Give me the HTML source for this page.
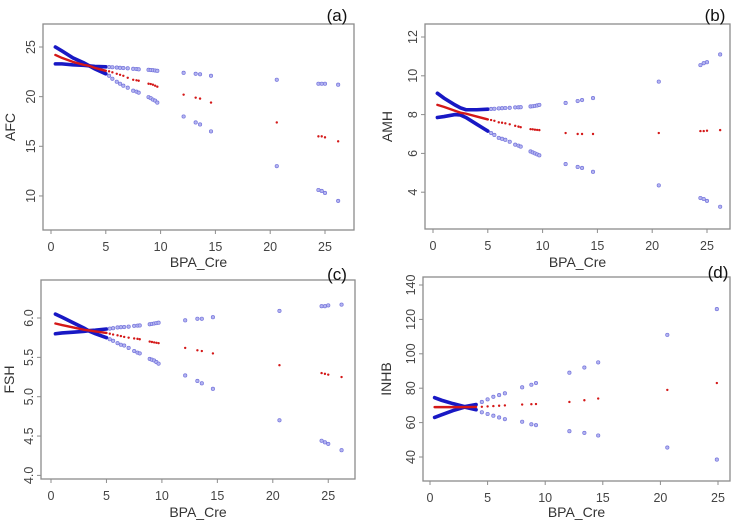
<!DOCTYPE html>
<html><head><meta charset="utf-8"><style>
body{margin:0;background:#fff;}
svg{display:block;font-family:"Liberation Sans",sans-serif;}
</style></head><body>
<svg id="fig" width="735" height="524" viewBox="0 0 735 524" xmlns="http://www.w3.org/2000/svg"></svg>
<script>
const xTicks=[0,5,10,15,20,25];
// Panel (a) AFC
const aX=[0.4,1,2,3,3.5,4,5,5.3,5.6,6,6.3,6.6,7,7.5,7.8,8,8.9,9.1,9.3,9.5,9.7,12.1,13.2,13.6,14.6,20.6,24.4,24.7,25,26.2];
const aDesc=[25,24.6,23.9,23.4,23.1,22.8,22.3,22.1,21.8,21.5,21.3,21.1,20.9,20.6,20.5,20.4,19.95,19.85,19.7,19.6,19.4,18.0,17.4,17.2,16.5,13.0,10.6,10.5,10.3,9.5];
const aFlat=[23.3,23.3,23.2,23.15,23.1,23.05,23.0,22.98,22.96,22.93,22.9,22.88,22.85,22.8,22.78,22.75,22.7,22.68,22.66,22.63,22.6,22.4,22.3,22.25,22.1,21.7,21.3,21.3,21.3,21.2];
const aMid=[24.2,23.9,23.5,23.2,23.1,22.9,22.6,22.55,22.45,22.3,22.2,22.1,21.9,21.7,21.65,21.6,21.3,21.27,21.2,21.1,21.0,20.2,19.9,19.8,19.4,17.4,16.0,16.0,15.9,15.5];
const aYTicks=[10,15,20,25];
// Panel (b) AMH
const bX=[0.4,1,2,2.5,3,4,5,5.3,5.6,6,6.3,6.6,7,7.5,7.8,8,8.9,9.1,9.3,9.5,9.7,12.1,13.2,13.6,14.6,20.6,24.4,24.7,25,26.2];
const bUp=[9.1,8.85,8.5,8.35,8.25,8.25,8.28,8.29,8.3,8.32,8.33,8.34,8.35,8.37,8.375,8.38,8.42,8.43,8.45,8.47,8.5,8.6,8.7,8.75,8.85,9.7,10.55,10.65,10.7,11.1];
const bLo=[7.85,7.9,8.0,7.98,7.85,7.5,7.15,7.05,6.95,6.8,6.75,6.7,6.6,6.45,6.4,6.35,6.1,6.05,6.0,5.95,5.9,5.45,5.3,5.25,5.05,4.35,3.7,3.65,3.55,3.25];
const bMid=[8.5,8.4,8.2,8.1,8.05,7.9,7.75,7.72,7.68,7.6,7.58,7.55,7.5,7.42,7.38,7.35,7.25,7.24,7.22,7.21,7.2,7.05,7.0,7.0,7.0,7.05,7.15,7.15,7.17,7.2];
const bYTicks=[4,6,8,10,12];
// Panel (c) FSH
const cX=[0.4,1,2,3,3.5,4,5,5.3,5.6,6,6.3,6.6,7,7.5,7.8,8,8.9,9.1,9.3,9.5,9.7,12.1,13.2,13.6,14.6,20.6,24.4,24.7,25,26.2];
const cDesc=[6.05,6.01,5.94,5.87,5.83,5.8,5.75,5.73,5.71,5.68,5.66,5.65,5.62,5.58,5.56,5.55,5.48,5.47,5.46,5.44,5.42,5.27,5.2,5.17,5.1,4.7,4.44,4.42,4.4,4.32];
const cFlat=[5.8,5.81,5.82,5.83,5.84,5.845,5.86,5.865,5.87,5.88,5.883,5.885,5.89,5.9,5.903,5.905,5.92,5.925,5.93,5.935,5.94,5.97,5.99,5.99,6.01,6.09,6.15,6.15,6.16,6.17];
const cMid=[5.93,5.91,5.88,5.85,5.84,5.83,5.81,5.8,5.79,5.78,5.77,5.76,5.75,5.74,5.735,5.73,5.7,5.695,5.69,5.685,5.68,5.62,5.59,5.58,5.55,5.4,5.3,5.29,5.28,5.25];
const cYTicks=[4.0,4.5,5.0,5.5,6.0];
// Panel (d) INHB
const dX=[0.4,1,2,3,4,4.5,5,5.5,6,6.5,8,8.8,9.2,12.1,13.4,14.6,20.6,24.9];
const dUp=[74.5,73,71,69.3,70.5,72,73.5,75,76,77,80.5,82,83,89,92,95,111,126];
const dLo=[63,64.5,67,69,67.5,66,65,64,63,62,60.5,59,58.5,55,54,52.5,45.5,38.5];
const dMid=[69,69,69,69,69.1,69.2,69.4,69.6,69.8,70,70.5,70.7,70.8,72,73,74,79,83];
const dYTicks=[40,60,80,100,120,140];

const NS="http://www.w3.org/2000/svg";
const fig=document.getElementById('fig');
function mk(tag,attrs,parent){const e=document.createElementNS(NS,tag);for(const k in attrs)e.setAttribute(k,attrs[k]);(parent||fig).appendChild(e);return e;}

function panel(cfg){
  const g=mk('g',{});
  
  
  const sx=v=>cfg.x0+cfg.xk*v, sy=v=>cfg.y0-cfg.yk*(v-cfg.yv0);
  const box=mk('rect',{x:cfg.L,y:cfg.T,width:cfg.R-cfg.L,height:cfg.B-cfg.T,fill:'none',stroke:'#8c8c8c','stroke-width':1.3},g);
  
  
  xTicks.forEach(t=>{
    mk('line',{x1:sx(t),x2:sx(t),y1:cfg.B,y2:cfg.B+4,stroke:'#8c8c8c','stroke-width':1},g);
    const tx=mk('text',{x:sx(t),y:cfg.B+21,'text-anchor':'middle','font-size':12.5,fill:'#444'},g);
    tx.textContent=t;
    
    
  });
  cfg.yTicks.forEach(t=>{
    mk('line',{x1:cfg.L-4,x2:cfg.L,y1:sy(t),y2:sy(t),stroke:'#8c8c8c','stroke-width':1},g);
    const tx=mk('text',{x:0,y:0,'text-anchor':'middle','font-size':12.5,fill:'#444',transform:`translate(${cfg.L-8},${sy(t)}) rotate(-90)`},g);
    tx.textContent=cfg.dec?t.toFixed(1):t;
    
    
  });
  const xt=mk('text',{x:(cfg.L+cfg.R)/2,y:cfg.xtY,'text-anchor':'middle','font-size':14,fill:'#333'},g);
  xt.textContent='BPA_Cre';
  
  
  const yt=mk('text',{x:0,y:0,'text-anchor':'middle','font-size':14,fill:'#333',transform:`translate(${cfg.ytX},${(cfg.T+cfg.B)/2}) rotate(-90)`},g);
  yt.textContent=cfg.yTitle;
  
  
  const pl=mk('text',{x:cfg.labX,y:cfg.labY,'text-anchor':'middle','font-size':17,fill:'#111'},g);
  pl.textContent=cfg.label;
  
  
  cfg.series.forEach(s=>{
    const xs=cfg.xs, ys=s.ys;
    let pts=[];
    xs.forEach((x,i)=>{if(x<=cfg.dense)pts.push(sx(x)+','+sy(ys[i]));});
    const line=mk('polyline',{points:pts.join(' '),fill:'none',stroke:s.red?'#d41818':'#1818c4','stroke-width':s.red?2.4:3.6,'stroke-linecap':'round'},g);
    
    
    xs.forEach((x,i)=>{
      if(x<=cfg.dense)return;
      const c=s.red?mk('circle',{cx:sx(x),cy:sy(ys[i]),r:1.2,fill:'#d41818'},g)
                   :mk('circle',{cx:sx(x),cy:sy(ys[i]),r:1.7,fill:'#b4b4f0',stroke:'#7474dc','stroke-width':0.7},g);
      
      
    });
  });
}

panel({name:'panel-a-afc',label:'(a)',labX:337,labY:21,L:43,R:354,T:24,B:230,x0:51,xk:10.96,y0:47,yv0:25,yk:9.93,
  yTicks:aYTicks,yTitle:'AFC',ytX:15,xtY:267,xs:aX,dense:5,
  series:[{name:'afc-ci-lower',ys:aDesc},{name:'afc-ci-upper',ys:aFlat},{name:'afc-fit',ys:aMid,red:1}]});
panel({name:'panel-b-amh',label:'(b)',labX:715,labY:21,L:425,R:730,T:24,B:229,x0:433,xk:10.96,y0:37,yv0:12,yk:19.4,
  yTicks:bYTicks,yTitle:'AMH',ytX:392,xtY:267,xs:bX,dense:5,
  series:[{name:'amh-ci-upper',ys:bUp},{name:'amh-ci-lower',ys:bLo},{name:'amh-fit',ys:bMid,red:1}]});
panel({name:'panel-c-fsh',label:'(c)',labX:337,labY:280,L:41,R:355,T:280,B:479,x0:51,xk:11.09,y0:318,yv0:6,yk:78.7,dec:1,
  yTicks:cYTicks,yTitle:'FSH',ytX:14,xtY:517,xs:cX,dense:5,
  series:[{name:'fsh-ci-lower',ys:cDesc},{name:'fsh-ci-upper',ys:cFlat},{name:'fsh-fit',ys:cMid,red:1}]});
panel({name:'panel-d-inhb',label:'(d)',labX:718,labY:278,L:423,R:730,T:277,B:481,x0:430,xk:11.52,y0:285,yv0:140,yk:1.72,
  yTicks:dYTicks,yTitle:'INHB',ytX:391,xtY:517,xs:dX,dense:4,
  series:[{name:'inhb-ci-upper',ys:dUp},{name:'inhb-ci-lower',ys:dLo},{name:'inhb-fit',ys:dMid,red:1}]});
</script>
</body></html>
